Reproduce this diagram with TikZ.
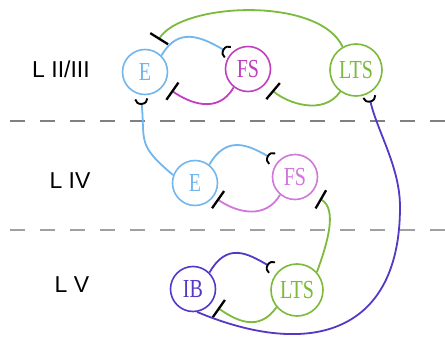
\documentclass[tikz,border=0pt]{standalone}
\usepackage{fontspec}
\usetikzlibrary{arrows.meta}
\newfontfamily\cellfont{Liberation Serif}[FakeStretch=0.77]
\newfontfamily\layerfont{Liberation Sans}
\definecolor{eblue}{HTML}{72B6EE}
\definecolor{fsmagA}{HTML}{C13EBE}
\definecolor{fsmagB}{HTML}{D176DA}
\definecolor{ltsgreen}{HTML}{7BBA3B}
\definecolor{ibpurple}{HTML}{5538C6}
\definecolor{rulegrayA}{HTML}{808080}
\definecolor{rulegrayB}{HTML}{A0A0A0}

\begin{document}
\begin{tikzpicture}[x=1pt,y=1pt,
  cell/.style={circle, draw=#1, text=#1, line width=1.6pt, inner sep=0pt, fill=white,
    font={\cellfont\fontsize{26pt}{26pt}\selectfont}},
  small/.style={cell=#1, minimum size=45pt},
  large/.style={cell=#1, minimum size=52pt},
  layer/.style={font={\layerfont\fontsize{23pt}{23pt}\selectfont}, inner sep=0pt},
  conn/.style={line width=1.8pt},
  inhib/.style={conn, -{Bar[width=21pt, line width=2.3pt, color=black]}},
  excit/.style={conn, -{Arc Barb[reversed, width=14pt, length=6pt, line width=1.9pt, color=black]}},
  layerrule/.style={line width=1.6pt, dash pattern=on 15pt off 15pt}
]
\useasboundingbox (0,0) rectangle (445,-337);

% layer boundaries
\draw[layerrule, rulegrayA] (10,-121) -- (445,-121);
\draw[layerrule, rulegrayB] (10,-230) -- (445,-230);

% layer labels
\node[layer] (lab23) at (61,-69) {L II/III};
\node[layer] (lab4)  at (70,-181) {L IV};
\node[layer] (lab5)  at (72,-285) {L V};

% cells
\node[small=eblue]    (E1)   at (145,-72)  {E};
\node[small=fsmagA]   (FS1)  at (248,-69)  {FS};
\node[large=ltsgreen] (LTS1) at (356,-70)  {LTS};
\node[small=eblue]    (E2)   at (195,-183) {E};
\node[small=fsmagB]   (FS2)  at (295,-177) {FS};
\node[small=ibpurple] (IB)   at (193,-289) {IB};
\node[large=ltsgreen] (LTS2) at (297,-290) {LTS};

% layer II/III
\draw[inhib, ltsgreen, shorten >=12pt] (LTS1.120) to[out=115, in=58, looseness=0.75] (E1.72);
\draw[excit, eblue, shorten >=3pt] (E1.45) to[out=60, in=150, looseness=1.25] (FS1.139);
\draw[inhib, fsmagA, shorten >=9pt] (FS1.232) to[out=240, in=-35, looseness=1.15] (E1.-35);
\draw[inhib, ltsgreen, shorten >=9pt] (LTS1.234) to[out=235, in=-40, looseness=1] (FS1.-42);

% layer IV
\draw[excit, eblue, shorten >=4pt] (E2.160) to[out=140, in=-85, looseness=1.4] (E1.-100);
\draw[excit, eblue, shorten >=6pt] (E2.52) to[out=60, in=150, looseness=1.28] (FS2.139);
\draw[inhib, fsmagB, shorten >=4pt] (FS2.230) to[out=240, in=-35, looseness=1.1] (E2.-36);

% layer V
\draw[inhib, ltsgreen, shorten >=10pt] (LTS2.42) to[out=70, in=-30] (FS2.-46);
\draw[excit, ibpurple, shorten >=7pt] (IB.45) to[out=60, in=150, looseness=1.32] (LTS2.135);
\draw[inhib, ltsgreen, shorten >=8pt] (LTS2.220) to[out=235, in=-35, looseness=1.2] (IB.-38);
\coordinate (sweep) at (400,-207);
\draw[excit, ibpurple, shorten >=3pt] (IB.-80) .. controls (312,-360) and (400,-332) .. (sweep)
  .. controls (400,-167) and (377.5,-132) .. (LTS1.-62);
\end{tikzpicture}
\end{document}
